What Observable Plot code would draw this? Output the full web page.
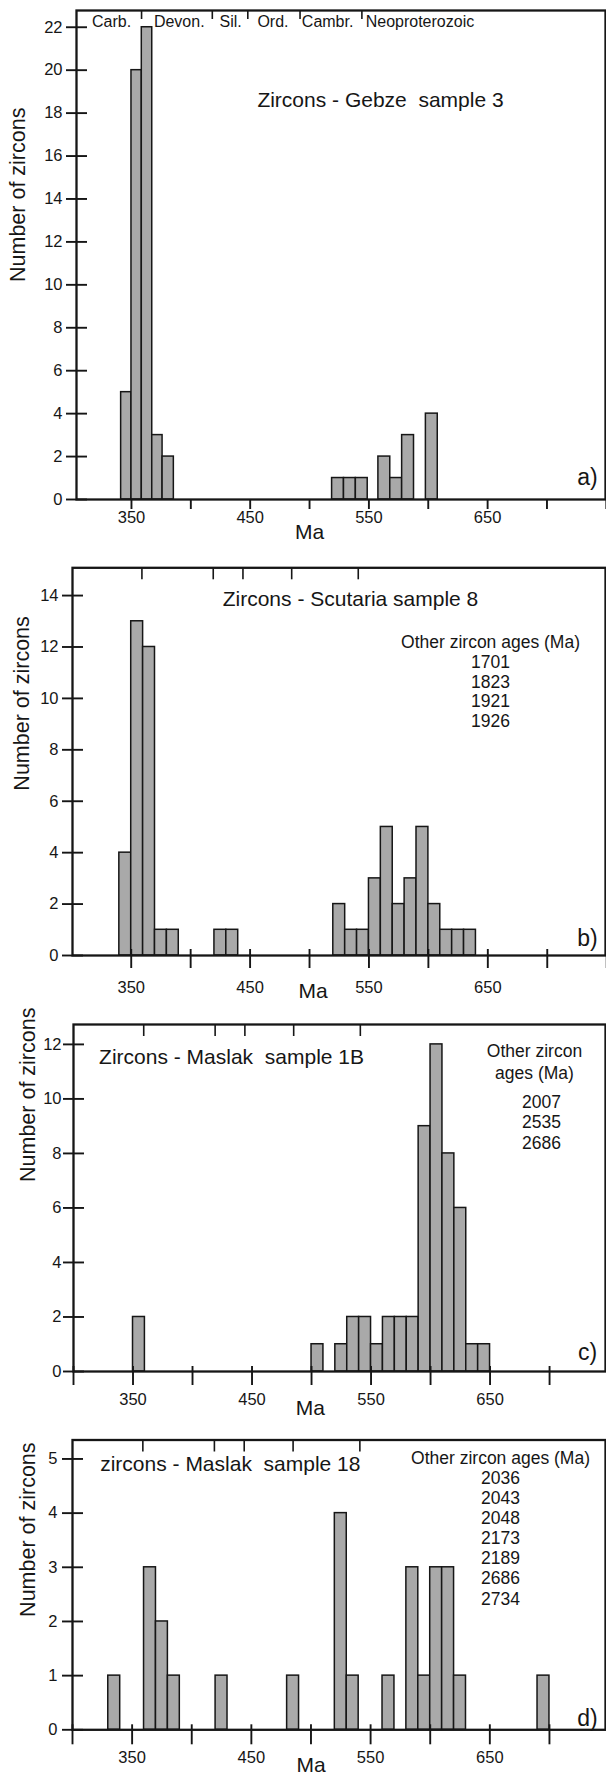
<!DOCTYPE html>
<html><head><meta charset="utf-8">
<script src="https://cdn.jsdelivr.net/npm/d3@7"></script>
<script src="https://cdn.jsdelivr.net/npm/@observablehq/plot@0.6"></script>
<style>
html,body{margin:0;padding:0;background:#fff;}
#root{position:relative;width:606px;height:1777px;overflow:hidden;background:#fff;}
#root svg{position:absolute;left:0;}
svg text{white-space:pre;}
</style></head><body><div id="root"></div>
<script>
// ---------- DATA ----------
// Panel a) Zircons - Gebze sample 3 (bin edges in Ma, counts)
const aBinStart = [341.3, 350, 358.7, 367.5, 376.2, 519, 529, 539, 558, 568, 578, 598];
const aBinEnd   = [350, 358.7, 367.5, 376.2, 385.7, 529, 539, 549, 568, 578, 588, 608];
const aCount    = [5, 20, 22, 3, 2, 1, 1, 1, 2, 1, 3, 4];

// Panel b) Zircons - Scutaria sample 8 (10 Ma bins)
const bBinStart = [340, 350, 360, 370, 380, 420, 430, 520, 530, 540, 550, 560, 570, 580, 590, 600, 610, 620, 630];
const bCount    = [4, 13, 12, 1, 1, 1, 1, 2, 1, 1, 3, 5, 2, 3, 5, 2, 1, 1, 1];
const bOtherAges = [1701, 1823, 1921, 1926];

// Panel c) Zircons - Maslak sample 1B (10 Ma bins)
const cBinStart = [350, 500, 520, 530, 540, 550, 560, 570, 580, 590, 600, 610, 620, 630, 640];
const cCount    = [2, 1, 1, 2, 2, 1, 2, 2, 2, 9, 12, 8, 6, 1, 1];
const cOtherAges = [2007, 2535, 2686];

// Panel d) zircons - Maslak sample 18 (10 Ma bins)
const dBinStart = [330, 360, 370, 380, 420, 480, 520, 530, 560, 580, 590, 600, 610, 620, 690];
const dCount    = [1, 3, 2, 1, 1, 1, 4, 1, 1, 3, 1, 3, 3, 1, 1];
const dOtherAges = [2036, 2043, 2048, 2173, 2189, 2686, 2734];

const binWidth = 10;

// Geological period boundaries (Ma) marked on top frame
const periodNames = ["Carb.", "Devon.", "Sil.", "Ord.", "Cambr.", "Neoproterozoic"];
const periodLabelAgesA = [316.8, 368.9, 424.2, 456.1, 493.5, 547.3];
const periodBoundsA = [358.5, 418.1, 448, 492, 544.1];
const periodBounds = [359, 419, 444, 485, 541];

const xTickValues = [300, 350, 400, 450, 500, 550, 600, 650, 700, 750];
const xTickLabels = [350, 450, 550, 650];

const titles = ["Zircons - Gebze  sample 3", "Zircons - Scutaria sample 8", "Zircons - Maslak  sample 1B", "zircons - Maslak  sample 18"];
const panelLetters = ["a)", "b)", "c)", "d)"];
const yLabel = "Number of zircons";
const xLabel = "Ma";
const otherHeader = "Other zircon ages (Ma)";

// ---------- DRAWING ----------
const FONT = "'Liberation Sans', Arial, Helvetica, sans-serif";
const INK = "#161616";
const root = document.getElementById("root");

function toBars(starts, ends, counts) {
  return starts.map((s, i) => ({x1: s, x2: ends ? ends[i] : s + binWidth, count: counts[i]}));
}

function panel(o) {
  const [d0, d1] = o.xDomain;
  const ticks = xTickValues.filter(t => t >= d0 - 0.5 && t <= d1 + 1);
  const marks = [
    Plot.rectY(o.bars, {x1: "x1", x2: "x2", y1: 0, y2: "count", fill: "#a9a9a9", stroke: INK, strokeWidth: 1.5, inset: 0}),
    Plot.frame({stroke: INK, strokeWidth: 2.3}),
    Plot.axisY({ticks: o.yTicks, tickSize: 21, dx: 11, text: null, strokeWidth: 1.9, stroke: INK}),
    Plot.axisY({ticks: o.yTicks, tickSize: 0, tickPadding: o.yPad, tickFormat: d => String(d), fontSize: 16.5, fill: INK}),
    Plot.axisX({ticks: ticks, tickSize: o.xTickSize, dy: o.xTickDy, text: null, strokeWidth: 1.9, stroke: INK}),
    Plot.axisX({ticks: xTickLabels, tickSize: 0, tickPadding: o.xLabelPad, tickFormat: d => String(d), fontSize: 16.5, fill: INK}),
    Plot.axisX({anchor: "top", ticks: o.periods, tickSize: o.periodTick, dy: o.periodTick, text: null, strokeWidth: 1.6, stroke: INK}),
    Plot.text([xLabel], {x: [o.maAge], frameAnchor: "bottom", dy: o.maDy, lineAnchor: "top", fontSize: 21, fill: INK}),
    Plot.text([yLabel], {frameAnchor: "left", rotate: -90, dx: o.yLabDx, dy: o.yLabDy, fontSize: 21.5, fill: INK}),
    Plot.text([o.title], {frameAnchor: "top-left", dx: o.titleDx, dy: o.titleDy, textAnchor: o.titleAnchor, lineAnchor: "middle", fontSize: 21, fill: INK}),
    Plot.text([o.letter], {frameAnchor: "bottom-right", dx: -18, dy: o.letterDy, textAnchor: "middle", lineAnchor: "middle", fontSize: 23, fill: INK})
  ];
  if (o.extra) marks.push(...o.extra);
  const svg = Plot.plot({
    width: 606,
    height: o.height,
    marginTop: o.marginTop,
    marginBottom: o.marginBottom,
    marginLeft: o.marginLeft,
    marginRight: 1,
    style: {fontFamily: FONT, color: INK, background: "transparent", overflow: "visible"},
    x: {domain: o.xDomain, label: null},
    y: {domain: o.yDomain, label: null},
    marks
  });
  svg.style.top = o.top + "px";
  root.appendChild(svg);
}

const range = (a, b, s) => d3.range(a, b + 0.001, s);

// a)
panel({
  top: 0, height: 545, marginTop: 10, marginBottom: 46, marginLeft: 76,
  xDomain: [303.7, 749.3], yDomain: [0, 22.78], yTicks: range(0, 22, 2), yPad: 14,
  bars: toBars(aBinStart, aBinEnd, aCount),
  xTickSize: 10, xTickDy: 0, xLabelPad: 12, maAge: 500, maDy: 25,
  periods: periodBoundsA, periodTick: 8,
  yLabDx: -58, yLabDy: 27,
  title: titles[0], titleDx: 304, titleDy: 90, titleAnchor: "middle",
  letter: panelLetters[0], letterDy: -22,
  extra: [
    Plot.text(periodNames, {x: periodLabelAgesA, frameAnchor: "top", dy: 11, textAnchor: "start", lineAnchor: "middle", fontSize: 16, fill: INK})
  ]
});

// b)
panel({
  top: 545, height: 455, marginTop: 22.3, marginBottom: 45, marginLeft: 72,
  xDomain: [300.6, 749], yDomain: [0, 15.08], yTicks: range(0, 14, 2), yPad: 14,
  bars: toBars(bBinStart, null, bCount),
  xTickSize: 19, xTickDy: -6, xLabelPad: 26, maAge: 503, maDy: 28,
  periods: periodBounds, periodTick: 11,
  yLabDx: -50, yLabDy: 29,
  title: titles[1], titleDx: 278, titleDy: 31, titleAnchor: "middle",
  letter: panelLetters[1], letterDy: -17,
  extra: [
    Plot.text([[otherHeader, ...bOtherAges].join("\n")], {frameAnchor: "top-left", dx: 418, dy: 113.5, textAnchor: "middle", lineAnchor: "middle", lineHeight: 1.13, fontSize: 17.5, fill: INK})
  ]
});

// c)
panel({
  top: 1000, height: 420, marginTop: 24, marginBottom: 49, marginLeft: 73,
  xDomain: [300, 747], yDomain: [0, 12.73], yTicks: range(0, 12, 2), yPad: 12,
  bars: toBars(cBinStart, null, cCount),
  xTickSize: 19, xTickDy: -5, xLabelPad: 22, maAge: 499, maDy: 29,
  periods: periodBounds, periodTick: 11,
  yLabDx: -45, yLabDy: -16,
  title: titles[2], titleDx: 25.6, titleDy: 32.7, titleAnchor: "start",
  letter: panelLetters[2], letterDy: -19,
  extra: [
    Plot.text([otherHeader.replace(" ages", "\nages")], {frameAnchor: "top-left", dx: 461, dy: 36.8, textAnchor: "middle", lineAnchor: "middle", lineHeight: 1.24, fontSize: 17.5, fill: INK}),
    Plot.text([cOtherAges.join("\n")], {frameAnchor: "top-left", dx: 468, dy: 97.4, textAnchor: "middle", lineAnchor: "middle", lineHeight: 1.16, fontSize: 17.5, fill: INK})
  ]
});

// d)
panel({
  top: 1420, height: 357, marginTop: 19.5, marginBottom: 47.7, marginLeft: 72,
  xDomain: [300, 747], yDomain: [0, 5.35], yTicks: range(0, 5, 1), yPad: 15,
  bars: toBars(dBinStart, null, dCount),
  xTickSize: 20, xTickDy: -5, xLabelPad: 21, maAge: 500, maDy: 27,
  periods: periodBounds, periodTick: 11,
  yLabDx: -44, yLabDy: 32,
  title: titles[3], titleDx: 27.7, titleDy: 23.8, titleAnchor: "start",
  letter: panelLetters[3], letterDy: -11,
  extra: [
    Plot.text([[otherHeader, ...dOtherAges].join("\n")], {frameAnchor: "top-left", dx: 428, dy: 87.7, textAnchor: "middle", lineAnchor: "middle", lineHeight: 1.15, fontSize: 17.5, fill: INK})
  ]
});
</script></body></html>
